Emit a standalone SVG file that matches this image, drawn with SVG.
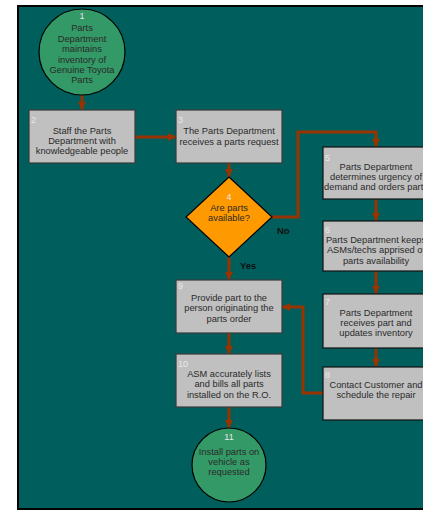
<svg xmlns="http://www.w3.org/2000/svg" width="423" height="511" viewBox="0 0 423 511">
<defs>
<marker id="ah" markerUnits="userSpaceOnUse" markerWidth="10" markerHeight="10" viewBox="0 0 10 10" refX="9" refY="5" orient="auto">
<path d="M1,1 L9,5 L1,9 Z" fill="#993300"/>
</marker>
<style>
.bg{fill:#005f5c;stroke:#000;stroke-width:2}
.box{fill:#c0c0c0;stroke:#3a3a3a;stroke-width:1.2}
.boxb{fill:#c0c0c0;stroke:#111;stroke-width:1.2}
.circ{fill:#339966;stroke:#000;stroke-width:1.2}
.dia{fill:#ff9900;stroke:#000;stroke-width:1.2}
.c{fill:none;stroke:#993300;stroke-width:3;marker-end:url(#ah)}
text{font-family:"Liberation Sans",Arial,sans-serif}
.t{font-size:9.3px;fill:#2a2a2a;text-anchor:middle}
.n{font-size:9px;fill:#e8e8e8}
.nc{font-size:9px;fill:#e8e8e8;text-anchor:middle}
.lb{font-size:9.5px;font-weight:bold;fill:#111}
</style>
</defs>
<rect class="bg" x="18" y="6" width="420" height="503"/>
<g id="connectors">
<path class="c" d="M82,95 L82,110"/>
<path class="c" d="M135,137 L176,137"/>
<path class="c" d="M229,163 L229,177"/>
<path class="c" d="M272,217 L298,217 L298,132 L376,132 L376,147"/>
<path class="c" d="M376,199 L376,221"/>
<path class="c" d="M376,271 L376,294"/>
<path class="c" d="M376,348 L376,367"/>
<path class="c" d="M323,393 L303,393 L303,307 L282,307"/>
<path class="c" d="M229,257 L229,280"/>
<path class="c" d="M229,333 L229,354"/>
<path class="c" d="M229,407 L229,428"/>
<text class="lb" x="277" y="234">No</text>
<text class="lb" x="240" y="269">Yes</text>
</g>
<g id="n1">
<circle class="circ" cx="82" cy="52" r="43"/>
<text class="nc" x="82" y="19">1</text>
<text class="t" x="82" y="31">Parts</text>
<text class="t" x="82" y="42">Department</text>
<text class="t" x="82" y="52">maintains</text>
<text class="t" x="82" y="63">inventory of</text>
<text class="t" x="82" y="73">Genuine Toyota</text>
<text class="t" x="82" y="83">Parts</text>
</g>
<g id="n2">
<rect class="box" x="29" y="110" width="106" height="53"/>
<text class="n" x="31" y="123">2</text>
<text class="t" x="82" y="134">Staff the Parts</text>
<text class="t" x="82" y="144">Department with</text>
<text class="t" x="82" y="154">knowledgeable people</text>
</g>
<g id="n3">
<rect class="box" x="176" y="110" width="106" height="53"/>
<text class="n" x="178" y="123">3</text>
<text class="t" x="229" y="134">The Parts Department</text>
<text class="t" x="229" y="145">receives a parts request</text>
</g>
<g id="n4">
<path class="dia" d="M229,177 L272,217 L229,257 L186,217 Z"/>
<text class="nc" x="229" y="200">4</text>
<text class="t" x="229" y="211">Are parts</text>
<text class="t" x="229" y="221">available?</text>
</g>
<g id="n5">
<rect class="boxb" x="323" y="147" width="106" height="52"/>
<text class="n" x="325" y="161">5</text>
<text class="t" x="376" y="170">Parts Department</text>
<text class="t" x="376" y="180">determines urgency of</text>
<text class="t" x="376" y="190">demand and orders parts</text>
</g>
<g id="n6">
<rect class="boxb" x="323" y="221" width="106" height="50"/>
<text class="n" x="325" y="233">6</text>
<text class="t" x="376" y="243">Parts Department keeps</text>
<text class="t" x="376" y="253">ASMs/techs apprised of</text>
<text class="t" x="376" y="264">parts availability</text>
</g>
<g id="n7">
<rect class="boxb" x="323" y="294" width="106" height="54"/>
<text class="n" x="325" y="305">7</text>
<text class="t" x="376" y="316">Parts Department</text>
<text class="t" x="376" y="326">receives part and</text>
<text class="t" x="376" y="336">updates inventory</text>
</g>
<g id="n8">
<rect class="boxb" x="323" y="367" width="106" height="53"/>
<text class="n" x="325" y="378">8</text>
<text class="t" x="376" y="388">Contact Customer and</text>
<text class="t" x="376" y="398">schedule the repair</text>
</g>
<g id="n9">
<rect class="box" x="176" y="280" width="106" height="53"/>
<text class="n" x="178" y="289">9</text>
<text class="t" x="229" y="301">Provide part to the</text>
<text class="t" x="229" y="311">person originating the</text>
<text class="t" x="229" y="322">parts order</text>
</g>
<g id="n10">
<rect class="box" x="176" y="354" width="106" height="53"/>
<text class="n" x="178" y="367">10</text>
<text class="t" x="229" y="377">ASM accurately lists</text>
<text class="t" x="229" y="387">and bills all parts</text>
<text class="t" x="229" y="398">installed on the R.O.</text>
</g>
<g id="n11">
<circle class="circ" cx="229" cy="465" r="37"/>
<text class="nc" x="229" y="440">11</text>
<text class="t" x="229" y="455">Install parts on</text>
<text class="t" x="229" y="465">vehicle as</text>
<text class="t" x="229" y="475">requested</text>
</g>
</svg>
